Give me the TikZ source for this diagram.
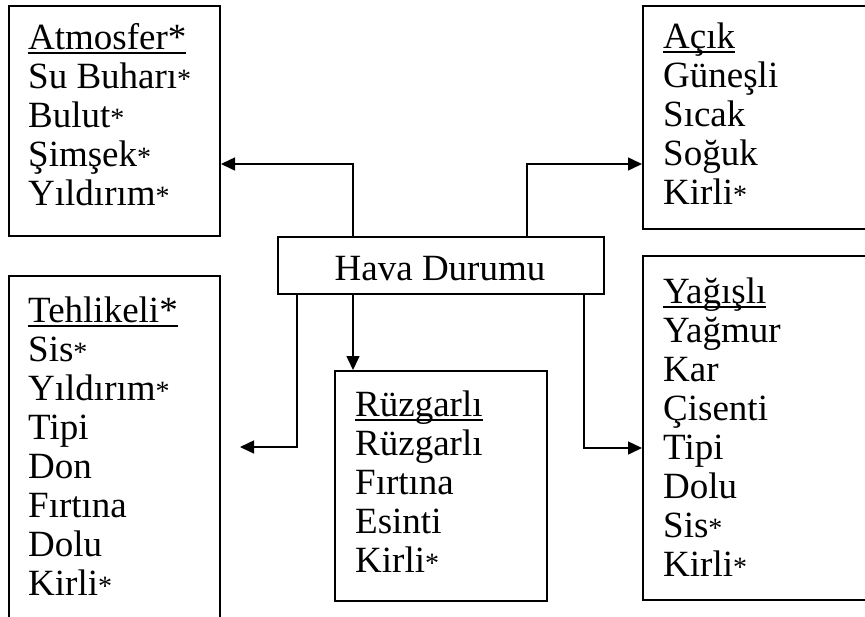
\documentclass[tikz,border=0pt]{standalone}
\usepackage{fontspec}
\setmainfont{Liberation Serif}
\usetikzlibrary{arrows.meta}

% underline at a fixed depth below the baseline
\newcommand\ulin[1]{\setbox0=\hbox{#1}\rlap{\rule[-4.6pt]{\wd0}{2pt}}\box0}
% small asterisk used after list items
\newcommand\sast{{\fontsize{28}{28}\selectfont*}}
% a left-aligned column of lines whose baseline is the first line
\newcommand\lines[1]{\begin{tabular}[t]{@{}l@{}}#1\end{tabular}}

\begin{document}
\begin{tikzpicture}[x=1pt,y=-1pt,
  every node/.style={font=\fontsize{37}{39}\selectfont},
  box/.style={draw,line width=2pt,inner sep=0pt,anchor=north west},
  txt/.style={inner sep=0pt,anchor=base west},
  conn/.style={line width=1.5pt,-{Triangle[length=14pt,width=13pt]}}]
\useasboundingbox (0,0) rectangle (865,616);

% boxes
\node[box,minimum width=211pt,minimum height=230pt] (atm) at (8,5) {};
\node[box,minimum width=240pt,minimum height=223pt] (acik) at (642,5) {};
\node[box,minimum width=211pt,minimum height=360pt] (teh) at (8,275) {};
\node[box,minimum width=212pt,minimum height=230pt] (ruz) at (334,370) {};
\node[box,minimum width=240pt,minimum height=344pt] (yag) at (642,255) {};
\node[box,minimum width=326pt,minimum height=57pt] (hava) at (277,236) {};

% texts
\node[txt] (atmtxt) at (28,49) {\lines{\ulin{Atmosfer*}\\ Su Buharı\sast\\ Bulut\sast\\ Şimşek\sast\\ Yıldırım\sast}};
\node[txt] (aciktxt) at (663,48) {\lines{\ulin{Açık}\\ Güneşli\\ Sıcak\\ Soğuk\\ Kirli\sast}};
\node[txt] (tehtxt) at (28,322) {\lines{\ulin{Tehlikeli*}\\ Sis\sast\\ Yıldırım\sast\\ Tipi\\ Don\\ Fırtına\\ Dolu\\ Kirli\sast}};
\node[txt] (ruztxt) at (355,416) {\lines{\ulin{Rüzgarlı}\\ Rüzgarlı\\ Fırtına\\ Esinti\\ Kirli\sast}};
\node[txt] (yagtxt) at (663,303) {\lines{\ulin{Yağışlı}\\ Yağmur\\ Kar\\ Çisenti\\ Tipi\\ Dolu\\ Sis\sast\\ Kirli\sast}};
\node[inner sep=0pt,anchor=base] (havatxt) at (440,280) {Hava Durumu};

% connector start points on the central box
\coordinate (hn1) at ([xshift=76pt]hava.north west);
\coordinate (hn2) at ([xshift=250pt]hava.north west);
\coordinate (hs1) at ([xshift=20pt]hava.south west);
\coordinate (hs2) at ([xshift=76pt]hava.south west);
\coordinate (hs3) at ([xshift=307pt]hava.south west);
\coordinate (tehin) at (240,447);

% connectors
\draw[conn] (hn1) |- ([yshift=-43pt]atm.east);
\draw[conn] (hn2) |- ([yshift=-46.5pt]acik.west);
\draw[conn] (hs1) |- (tehin);
\draw[conn] (hs2) -- (hs2 |- ruz.north);
\draw[conn] (hs3) |- ([yshift=-20pt]yag.west);
\end{tikzpicture}
\end{document}
